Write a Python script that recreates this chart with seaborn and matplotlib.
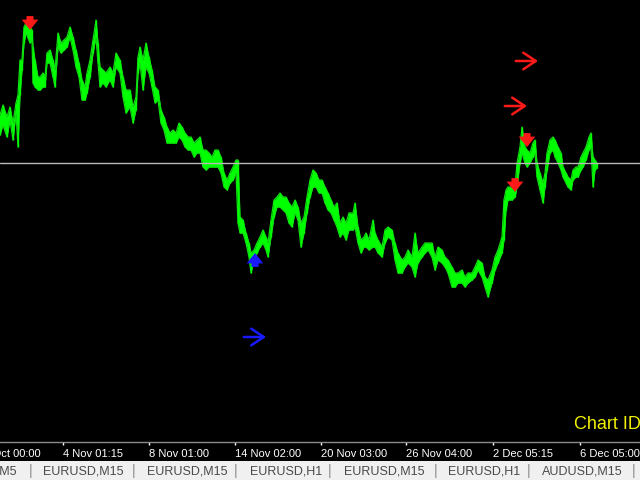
import numpy as np
import pandas as pd
import matplotlib
matplotlib.use("Agg")
import matplotlib.pyplot as plt
import seaborn as sns

# ---------------- data (prices in points above BASE) ----------------
BASE = 1.0900
PT = 0.0001

bars = [0, 3, 7, 10, 13, 16, 18, 20, 22, 24, 26, 28, 30, 32, 33, 35, 38, 40, 43, 45,
        47, 50, 53, 55, 58, 61, 64, 67, 70, 73, 76, 79, 82, 85, 87, 90, 93, 96, 98, 100,
        103, 106, 110, 113, 116, 120, 123, 126, 130, 133, 136, 138, 140, 143, 146, 149, 152, 155, 158, 161,
        164, 167, 170, 173, 176, 179, 182, 185, 188, 191, 194, 197, 200, 203, 206, 209, 212, 215, 218, 221,
        224, 227, 230, 233, 236, 238, 240, 243, 246, 249, 251, 254, 257, 260, 263, 266, 268, 271, 274, 277,
        280, 283, 286, 289, 292, 295, 298, 301, 304, 307, 310, 313, 316, 319, 322, 325, 328, 331, 334, 337,
        340, 343, 346, 349, 353, 355, 358, 361, 364, 366, 369, 373, 375, 378, 382, 385, 388, 392, 395, 398,
        402, 405, 408, 412, 415, 418, 422, 425, 428, 432, 435, 438, 442, 445, 448, 452, 455, 458, 462, 465,
        468, 472, 475, 478, 482, 485, 488, 492, 495, 498, 502, 504, 506, 508, 512, 515, 517, 520, 522, 525,
        527, 530, 533, 535, 537, 540, 543, 545, 547, 550, 553, 555, 558, 561, 563, 566, 568, 571, 573, 576,
        578, 581, 583, 586, 589, 591, 593, 595, 597]

high_pts = [325, 335, 323, 333, 317, 337, 345, 380, 380, 413, 417, 415, 413, 410, 393, 380, 363, 363, 367, 363,
            387, 390, 380, 370, 407, 397, 400, 403, 413, 403, 390, 377, 360, 353, 367, 380, 400, 420, 397, 373,
            370, 367, 373, 367, 387, 380, 363, 350, 350, 333, 343, 383, 393, 380, 397, 383, 370, 353, 350, 330,
            323, 313, 307, 310, 307, 317, 313, 307, 303, 303, 297, 300, 303, 290, 290, 287, 283, 290, 290, 283,
            267, 260, 267, 273, 280, 280, 223, 220, 207, 197, 187, 190, 197, 203, 210, 203, 197, 220, 240, 243,
            247, 243, 243, 237, 233, 240, 233, 217, 223, 243, 260, 270, 267, 260, 260, 253, 247, 240, 233, 237,
            217, 223, 217, 227, 227, 237, 213, 200, 203, 207, 200, 220, 207, 200, 193, 210, 213, 210, 197, 187,
            180, 183, 190, 183, 207, 187, 193, 197, 197, 197, 183, 193, 190, 183, 180, 173, 167, 167, 170, 163,
            167, 167, 173, 180, 177, 163, 160, 170, 183, 190, 203, 240, 250, 253, 253, 253, 277, 293, 313, 293,
            290, 287, 297, 300, 277, 267, 257, 267, 287, 300, 303, 300, 293, 287, 273, 267, 263, 260, 270, 273,
            273, 283, 287, 293, 303, 307, 283, 280, 277]

low_pts = [305, 315, 303, 320, 300, 327, 293, 345, 370, 397, 407, 402, 397, 400, 357, 353, 350, 350, 353, 353,
           377, 377, 363, 353, 393, 387, 390, 393, 403, 390, 373, 363, 340, 340, 347, 363, 387, 403, 377, 353,
           357, 353, 360, 353, 373, 367, 343, 327, 333, 317, 330, 367, 377, 350, 373, 367, 353, 337, 340, 317,
           310, 297, 297, 297, 297, 303, 300, 293, 290, 290, 283, 287, 287, 273, 270, 273, 273, 273, 273, 267,
           253, 250, 257, 260, 267, 217, 207, 207, 197, 183, 167, 180, 187, 193, 197, 190, 183, 203, 223, 233,
           233, 230, 227, 217, 213, 227, 220, 193, 207, 227, 243, 253, 253, 247, 247, 237, 230, 227, 220, 213,
           203, 207, 200, 210, 210, 213, 197, 187, 193, 193, 190, 193, 193, 187, 183, 197, 203, 200, 180, 167,
           167, 173, 177, 173, 163, 177, 183, 187, 190, 183, 170, 180, 177, 173, 167, 153, 153, 157, 157, 153,
           157, 160, 163, 170, 163, 153, 143, 157, 170, 177, 187, 200, 230, 240, 240, 243, 253, 277, 287, 277,
           273, 277, 283, 287, 263, 250, 237, 253, 270, 287, 290, 283, 277, 270, 263, 257, 253, 250, 260, 263,
           263, 270, 273, 280, 290, 293, 253, 270, 272]

assert len(bars) == len(high_pts) == len(low_pts)

bid_pts = 277

# signals: arrow tip positions
sell_bars = [30, 527, 515]
sell_pts = [410, 293, 248]
buy_bars = [255]
buy_pts = [187]
red_right_bars = [538, 527]
red_right_pts = [379, 334]
blue_right_bars = [266]
blue_right_pts = [103]

tick_bars = [63, 149, 235, 321, 406, 493, 580]
tick_labels = ["4 Nov 01:15", "8 Nov 01:00", "14 Nov 02:00", "20 Nov 03:00",
               "26 Nov 04:00", "2 Dec 05:15", "6 Dec 05:00"]
first_tick_bar = -23
first_tick_label = "31 Oct 00:00"

tab_names = ["EURUSD,M5", "EURUSD,M15", "EURUSD,M15", "EURUSD,H1",
             "EURUSD,M15", "EURUSD,H1", "AUDUSD,M15"]

def to_price(pts):
    return BASE + np.asarray(pts, dtype=float) * PT

df = pd.DataFrame({"bar": bars, "high": to_price(high_pts), "low": to_price(low_pts)})

# ---------------- figure ----------------
sns.set_theme(style="dark")
plt.rcParams["font.family"] = ["Liberation Sans", "DejaVu Sans"]

fig = plt.figure(figsize=(6.4, 4.8), dpi=100, facecolor="black")
ax = fig.add_axes([0, 38 / 480, 1, 442 / 480])
ax.set_facecolor("black")

green = "#00ff00"
ax.fill_between(df["bar"], df["low"], df["high"], color=green, lw=0)
sns.lineplot(data=df, x="bar", y="high", color="#10e010", lw=0.9, ax=ax)
sns.lineplot(data=df, x="bar", y="low", color="#10e010", lw=0.9, ax=ax)
ax.vlines(df["bar"], df["low"], df["high"], color=green, lw=1.0)

ax.axhline(to_price(bid_pts), color="#b8b8b8", lw=1)

ax.set_xlim(0, 640)
ax.set_ylim(to_price(-2), to_price(440))

arrow_fat = "simple,head_length=0.5,head_width=0.8,tail_width=0.34"
for b, p in zip(sell_bars, sell_pts):
    ax.annotate("", xy=(b, to_price(p)), xytext=(0, 10), textcoords="offset points",
                arrowprops=dict(arrowstyle=arrow_fat, color="#ff1a1a", lw=0,
                                mutation_scale=15, shrinkA=0, shrinkB=0))
for b, p in zip(buy_bars, buy_pts):
    ax.annotate("", xy=(b, to_price(p)), xytext=(0, -10), textcoords="offset points",
                arrowprops=dict(arrowstyle=arrow_fat, color="#1a1aff", lw=0,
                                mutation_scale=15, shrinkA=0, shrinkB=0))

arrow_thin = "->,head_length=0.45,head_width=0.3"
for bl, pl, col in [(red_right_bars, red_right_pts, "#ff1a1a"),
                    (blue_right_bars, blue_right_pts, "#1a1aff")]:
    for b, p in zip(bl, pl):
        ax.annotate("", xy=(b, to_price(p)), xytext=(-16, 0), textcoords="offset points",
                    arrowprops=dict(arrowstyle=arrow_thin, color=col, lw=1.8,
                                    mutation_scale=20, shrinkA=0, shrinkB=0))

# axes styling
for s in ["top", "left", "right"]:
    ax.spines[s].set_visible(False)
ax.spines["bottom"].set_color("#8a8a8a")
ax.spines["bottom"].set_linewidth(1)
ax.set_yticks([])
ax.set_xticks(tick_bars, tick_labels, ha="left")
ax.tick_params(axis="x", colors="white", length=2.2, width=1, direction="out",
               pad=2.5, labelsize=8, bottom=True)
ax.set_xlabel("")
ax.set_ylabel("")
ax.grid(False)
ax.annotate(first_tick_label, xy=(first_tick_bar, 0), xycoords=ax.get_xaxis_transform(),
            xytext=(0, -4.7), textcoords="offset points", ha="left", va="top",
            color="white", fontsize=8, annotation_clip=False)

fig.text(574 / 640, 1 - 429 / 480, "Chart ID", color="#f0f000", fontsize=13,
         va="baseline", ha="left")

# tab bar
tab = fig.add_axes([0, 0, 1, 19 / 480])
tab.set_facecolor("#f0f0f0")
tab.set_xlim(0, 640)
tab.set_ylim(0, 1)
tab.set_xticks([])
tab.set_yticks([])
for s in tab.spines.values():
    s.set_visible(False)
tab_left = [None, 43, 147, 250, 344, 448, 542]
seps = [31, 134, 236, 330, 436, 529, 634]
for i, name in enumerate(tab_names):
    if tab_left[i] is None:
        tab.text(17, 0.47, name, ha="right", va="center", color="#4a4a4a", fontsize=9)
    else:
        tab.text(tab_left[i], 0.47, name, ha="left", va="center", color="#4a4a4a", fontsize=9)
for s in seps:
    tab.text(s, 0.5, "|", ha="center", va="center", color="#8a8a8a", fontsize=10)

fig.savefig("out.png", dpi=100, facecolor="black")
